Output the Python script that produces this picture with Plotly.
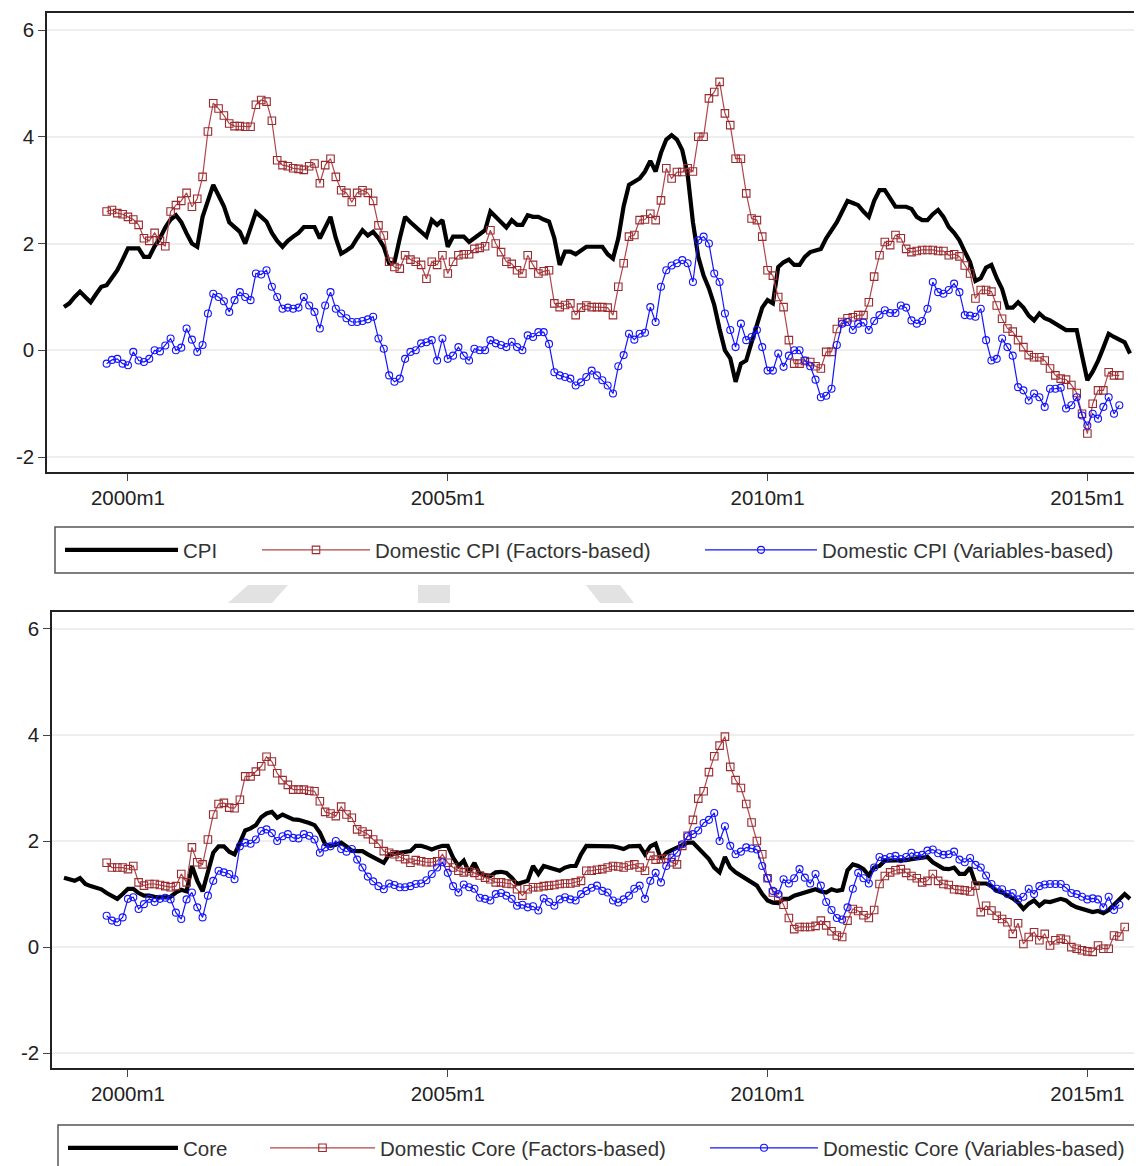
import plotly.graph_objects as go

# ---------------- data (monthly, % ) ----------------
tick_labels = ["2000m1", "2005m1", "2010m1", "2015m1"]
y_ticks = [-2, 0, 2, 4, 6]

cpi_start = "1999m1"
cpi = [
    0.81, 0.88, 1.0, 1.1, 1.0, 0.9, 1.05, 1.19, 1.22, 1.35, 1.5, 1.7,
    1.91, 1.91, 1.91, 1.75, 1.75, 1.95, 2.1, 2.3, 2.45, 2.53, 2.4, 2.19,
    2.0, 1.94, 2.5, 2.8, 3.1, 2.9, 2.7, 2.4, 2.3, 2.22, 2.0, 2.3,
    2.59, 2.5, 2.41, 2.2, 2.05, 1.94, 2.05, 2.13, 2.2, 2.31, 2.31, 2.31,
    2.1, 2.3, 2.5, 2.1, 1.81, 1.87, 1.94, 2.1, 2.25, 2.15, 2.22, 2.1,
    1.94, 1.63, 1.65, 2.1, 2.5, 2.4, 2.31, 2.2, 2.13, 2.44, 2.35, 2.44,
    1.94, 2.13, 2.13, 2.13, 2.03, 2.1, 2.19, 2.25, 2.6, 2.5, 2.38, 2.3,
    2.44, 2.35, 2.35, 2.53, 2.5, 2.5, 2.45, 2.41, 2.1, 1.6, 1.85, 1.85,
    1.8, 1.87, 1.94, 1.94, 1.94, 1.94, 1.8, 1.72, 2.1, 2.7, 3.1, 3.15,
    3.22, 3.35, 3.55, 3.35, 3.7, 3.95, 4.03, 3.95, 3.75, 3.3, 2.4, 1.75,
    1.4, 1.16, 0.85, 0.4, 0.0, -0.15, -0.59, -0.25, -0.19, 0.15, 0.5, 0.8,
    0.94, 0.88, 1.56, 1.65, 1.7, 1.6, 1.6, 1.75, 1.84, 1.86, 1.9, 2.1,
    2.25, 2.4, 2.6, 2.8, 2.76, 2.72, 2.6, 2.5, 2.8, 3.0, 3.0, 2.85,
    2.69, 2.69, 2.69, 2.65, 2.5, 2.44, 2.44, 2.55, 2.63, 2.5, 2.31, 2.2,
    2.06, 1.85, 1.65, 1.3, 1.35, 1.55, 1.6, 1.35, 1.15, 0.8, 0.8, 0.9,
    0.8, 0.65, 0.56, 0.69, 0.6, 0.56, 0.5, 0.45, 0.38, 0.38, 0.38, -0.1,
    -0.56, -0.4, -0.2, 0.05, 0.31, 0.25, 0.2, 0.15, -0.06,
]

cpi_factors_start = "1999m9"
cpi_factors = [
    2.6, 2.63, 2.57, 2.55,
    2.5, 2.45, 2.35, 2.1, 2.05, 2.2, 2.05, 1.95, 2.6, 2.72, 2.8, 2.95,
    2.69, 2.84, 3.25, 4.1, 4.63, 4.53, 4.4, 4.25, 4.2, 4.2, 4.19, 4.19,
    4.6, 4.69, 4.66, 4.3, 3.56, 3.47, 3.45, 3.41, 3.4, 3.38, 3.45, 3.5,
    3.13, 3.47, 3.59, 3.25, 3.0, 2.95, 2.78, 2.95, 3.0, 2.95, 2.8, 2.34,
    2.15, 1.66, 1.56, 1.53, 1.78, 1.7, 1.66, 1.6, 1.34, 1.66, 1.6, 1.78,
    1.44, 1.66, 1.78, 1.8, 1.8, 1.9, 1.92, 1.95, 2.25, 2.0, 1.84, 1.66,
    1.62, 1.5, 1.44, 1.78, 1.6, 1.44, 1.48, 1.5, 0.88, 0.81, 0.85, 0.88,
    0.66, 0.8, 0.84, 0.81, 0.81, 0.81, 0.8, 0.66, 1.19, 1.63, 2.13, 2.16,
    2.44, 2.45, 2.56, 2.44, 2.81, 3.41, 3.22, 3.34, 3.34, 3.41, 3.35, 4.0,
    4.0, 4.72, 4.84, 5.03, 4.44, 4.22, 3.59, 3.59, 2.94, 2.47, 2.44, 2.13,
    1.5, 1.4, 1.0, 0.81, 0.19, -0.25, -0.25, -0.2, -0.22, -0.3, -0.34, -0.03,
    -0.03, 0.4, 0.53, 0.6, 0.62, 0.66, 0.66, 0.9, 1.38, 1.78, 2.03, 1.97,
    2.16, 2.1, 1.9, 1.84, 1.86, 1.88, 1.88, 1.88, 1.86, 1.86, 1.78, 1.8,
    1.76, 1.59, 1.44, 0.97, 1.13, 1.13, 1.1, 0.84, 0.59, 0.41, 0.35, 0.19,
    0.06, -0.09, -0.13, -0.13, -0.19, -0.34, -0.47, -0.53, -0.55, -0.65, -0.8, -1.19,
    -1.56, -1.0, -0.75, -0.75, -0.41, -0.47, -0.47,
]

cpi_variables_start = "1999m9"
cpi_variables = [
    -0.25, -0.18, -0.16, -0.25,
    -0.28, -0.03, -0.19, -0.22, -0.16, 0.0, -0.02, 0.09, 0.22, 0.0, 0.05, 0.41,
    0.2, -0.03, 0.1, 0.69, 1.06, 1.0, 0.92, 0.72, 0.94, 1.09, 1.0, 0.94,
    1.44, 1.42, 1.5, 1.19, 1.0, 0.78, 0.8, 0.78, 0.8, 1.0, 0.84, 0.72,
    0.41, 0.84, 1.09, 0.78, 0.69, 0.6, 0.53, 0.53, 0.55, 0.58, 0.63, 0.22,
    0.03, -0.47, -0.59, -0.53, -0.16, -0.03, 0.0, 0.13, 0.15, 0.19, -0.19, 0.22,
    -0.16, -0.1, 0.06, -0.1, -0.19, 0.03, 0.0, 0.0, 0.19, 0.13, 0.1, 0.06,
    0.16, 0.06, 0.0, 0.28, 0.25, 0.34, 0.34, 0.12, -0.41, -0.47, -0.5, -0.53,
    -0.66, -0.6, -0.5, -0.38, -0.47, -0.56, -0.66, -0.81, -0.3, -0.09, 0.31, 0.2,
    0.31, 0.33, 0.81, 0.53, 1.19, 1.5, 1.59, 1.63, 1.69, 1.63, 1.28, 2.06,
    2.13, 2.0, 1.44, 1.28, 0.69, 0.38, 0.06, 0.5, 0.19, 0.25, 0.38, 0.06,
    -0.38, -0.38, -0.06, -0.31, -0.1, 0.0, 0.0, -0.19, -0.3, -0.55, -0.88, -0.85,
    -0.72, 0.1, 0.5, 0.53, 0.38, 0.5, 0.52, 0.38, 0.55, 0.66, 0.75, 0.7,
    0.7, 0.84, 0.8, 0.56, 0.5, 0.55, 0.78, 1.28, 1.09, 1.06, 1.13, 1.25,
    1.09, 0.66, 0.65, 0.63, 0.78, 0.19, -0.19, -0.16, 0.22, 0.06, -0.1, -0.69,
    -0.75, -0.94, -0.81, -0.88, -1.06, -0.72, -0.72, -0.7, -1.09, -1.03, -0.88, -1.22,
    -1.41, -1.19, -1.28, -1.06, -0.88, -1.19, -1.03,
]

core_start = "1999m1"
core = [
    1.31, 1.28, 1.25, 1.3, 1.19, 1.15, 1.12, 1.09, 1.02, 0.97, 0.91, 1.0,
    1.1, 1.1, 1.02, 0.97, 0.97, 0.95, 0.94, 0.94, 0.95, 1.03, 1.08, 1.05,
    1.53, 1.25, 1.05, 1.45, 1.78, 1.9, 1.9, 1.8, 1.75, 1.97, 2.2, 2.24,
    2.3, 2.45, 2.52, 2.55, 2.44, 2.5, 2.46, 2.41, 2.4, 2.38, 2.34, 2.3,
    2.16, 1.94, 1.91, 1.93, 1.97, 1.9, 1.82, 1.81, 1.81, 1.75, 1.7, 1.65,
    1.59, 1.75, 1.77, 1.78, 1.8, 1.81, 1.91, 1.91, 1.88, 1.84, 1.88, 1.91,
    1.91, 1.69, 1.53, 1.63, 1.41, 1.59, 1.38, 1.35, 1.34, 1.41, 1.42, 1.4,
    1.31, 1.19, 1.22, 1.25, 1.53, 1.38, 1.53, 1.5, 1.47, 1.44, 1.5, 1.53,
    1.53, 1.75, 1.91, 1.91, 1.91, 1.91, 1.91, 1.9, 1.88, 1.85, 1.9, 1.9,
    1.91, 1.75, 1.9, 1.95, 1.66, 1.78, 1.83, 1.88, 1.93, 1.97, 1.97, 1.86,
    1.75, 1.66, 1.5, 1.41, 1.7, 1.5, 1.41, 1.35, 1.28, 1.22, 1.16, 1.0,
    0.88, 0.84, 0.83, 0.91, 0.91, 0.97, 1.0, 1.03, 1.05, 1.09, 1.05, 1.03,
    1.09, 1.06, 1.08, 1.45, 1.56, 1.53, 1.47, 1.35, 1.5, 1.53, 1.63, 1.63,
    1.63, 1.63, 1.64, 1.66, 1.67, 1.68, 1.7, 1.6, 1.53, 1.48, 1.47, 1.5,
    1.38, 1.38, 1.5, 1.2, 1.2, 1.2, 1.15, 1.06, 1.03, 0.98, 0.92, 0.84,
    0.72, 0.82, 0.88, 0.78, 0.86, 0.85, 0.88, 0.91, 0.88, 0.8, 0.75, 0.72,
    0.7, 0.66, 0.68, 0.64, 0.7, 0.8, 0.88, 1.0, 0.91,
]

core_factors_start = "1999m9"
core_factors = [
    1.59, 1.5, 1.5, 1.5,
    1.47, 1.53, 1.22, 1.16, 1.19, 1.19, 1.17, 1.15, 1.13, 1.15, 1.38, 1.22,
    1.88, 1.6, 1.56, 2.03, 2.5, 2.7, 2.72, 2.63, 2.62, 2.78, 3.22, 3.22,
    3.31, 3.41, 3.59, 3.5, 3.28, 3.15, 3.06, 2.97, 2.97, 2.97, 2.95, 2.94,
    2.75, 2.55, 2.52, 2.47, 2.65, 2.5, 2.44, 2.22, 2.18, 2.13, 2.03, 1.95,
    1.81, 1.78, 1.75, 1.7, 1.66, 1.59, 1.64, 1.62, 1.6, 1.6, 1.62, 1.75,
    1.59, 1.5, 1.44, 1.41, 1.43, 1.4, 1.35, 1.31, 1.28, 1.22, 1.22, 1.2,
    1.19, 1.09, 0.97, 1.09, 1.13, 1.13, 1.15, 1.16, 1.17, 1.19, 1.2, 1.2,
    1.22, 1.25, 1.44, 1.44, 1.46, 1.47, 1.5, 1.53, 1.52, 1.5, 1.54, 1.56,
    1.5, 1.44, 1.72, 1.65, 1.66, 1.67, 1.6, 1.56, 1.91, 2.1, 2.4, 2.8,
    2.94, 3.3, 3.6, 3.8, 3.97, 3.4, 3.15, 3.0, 2.7, 2.35, 2.0, 1.75,
    1.3, 1.03, 0.95, 0.8, 0.55, 0.34, 0.38, 0.38, 0.38, 0.4, 0.5, 0.41,
    0.3, 0.22, 0.19, 0.5, 0.72, 0.68, 0.6, 0.55, 0.7, 1.19, 1.34, 1.41,
    1.45, 1.47, 1.4, 1.34, 1.3, 1.22, 1.25, 1.38, 1.25, 1.19, 1.17, 1.09,
    1.08, 1.07, 1.05, 1.16, 0.66, 0.78, 0.69, 0.59, 0.53, 0.47, 0.25, 0.45,
    0.06, 0.19, 0.28, 0.13, 0.25, 0.03, 0.13, 0.16, 0.14, 0.0, -0.03, -0.06,
    -0.08, -0.09, 0.03, -0.03, -0.03, 0.22, 0.2, 0.38,
]

core_variables_start = "1999m9"
core_variables = [
    0.59, 0.5, 0.47, 0.56,
    0.91, 0.94, 0.72, 0.81, 0.91, 0.85, 0.91, 0.93, 0.9, 0.65, 0.53, 0.9,
    1.03, 0.75, 0.56, 0.97, 1.25, 1.44, 1.41, 1.38, 1.28, 1.9, 1.97, 1.95,
    2.03, 2.19, 2.22, 2.15, 2.0, 2.09, 2.13, 2.06, 2.05, 2.13, 2.1, 2.03,
    1.78, 1.88, 1.9, 2.0, 1.85, 1.8, 1.85, 1.65, 1.5, 1.33, 1.24, 1.15,
    1.09, 1.2, 1.17, 1.13, 1.13, 1.15, 1.19, 1.2, 1.26, 1.38, 1.5, 1.6,
    1.4, 1.15, 1.03, 1.18, 1.13, 1.1, 0.93, 0.91, 0.88, 1.0, 1.02, 0.97,
    0.91, 0.78, 0.8, 0.75, 0.77, 0.69, 0.92, 0.85, 0.78, 0.9, 0.94, 0.9,
    0.88, 1.0, 1.06, 1.12, 1.16, 1.06, 1.03, 0.88, 0.84, 0.9, 0.97, 1.1,
    1.16, 0.91, 1.25, 1.4, 1.22, 1.53, 1.69, 1.78, 1.94, 2.09, 2.13, 2.2,
    2.34, 2.4, 2.53, 2.0, 2.28, 1.91, 1.75, 1.8, 1.88, 1.86, 1.84, 1.53,
    1.3, 1.06, 1.0, 1.28, 1.2, 1.3, 1.47, 1.31, 1.2, 1.38, 1.16, 0.85,
    0.7, 0.55, 0.52, 0.75, 1.1, 1.4, 1.3, 1.2, 1.5, 1.7, 1.66, 1.7,
    1.72, 1.66, 1.7, 1.78, 1.72, 1.74, 1.82, 1.84, 1.77, 1.74, 1.75, 1.8,
    1.65, 1.6, 1.68, 1.55, 1.5, 1.35, 1.19, 1.1, 1.09, 1.0, 1.02, 0.9,
    0.95, 1.1, 1.0, 1.15, 1.18, 1.19, 1.19, 1.19, 1.12, 1.02, 1.0, 0.95,
    0.9, 0.92, 0.9, 0.75, 0.95, 0.7, 0.8,
]

# ---------------- helpers ----------------
def month_index(label):
    yr, mo = label.split("m")
    return (int(yr) - 1999) * 12 + int(mo) - 1


def xs(start, values):
    s = month_index(start)
    return list(range(s, s + len(values)))


W, H = 1142, 1166
OFF = 8             # page margin offset of the figure inside the window
PXM = 5.33          # pixels per month
X0PX = 64           # window pixel of 1999m1


def fx(p):
    return (p - OFF) / W


def fy(p):
    return 1 - (p - OFF) / H


FONT = "Liberation Sans, Arial, Helvetica, sans-serif"
FS = 20.5
BLACK = "#000000"
RED_LINE = "#b0454a"
RED_MK = "#9a2a2e"
BLUE = "#1414ff"

fig = go.Figure()

series = [
    ("x", "y", "legend", "CPI", cpi_start, cpi, "k"),
    ("x", "y", "legend2", "Domestic CPI (Factors-based)", cpi_factors_start, cpi_factors, "r"),
    ("x", "y", "legend3", "Domestic CPI (Variables-based)", cpi_variables_start, cpi_variables, "b"),
    ("x2", "y2", "legend4", "Core", core_start, core, "k"),
    ("x2", "y2", "legend5", "Domestic Core (Factors-based)", core_factors_start, core_factors, "r"),
    ("x2", "y2", "legend6", "Domestic Core (Variables-based)", core_variables_start, core_variables, "b"),
]

for xa, ya, lg, name, start, vals, kind in series:
    if kind == "k":
        style = dict(mode="lines", line=dict(color=BLACK, width=4.2))
    elif kind == "r":
        style = dict(mode="lines+markers", line=dict(color=RED_LINE, width=1.2),
                     marker=dict(symbol="square-open", size=7.5, color=RED_MK,
                                 line=dict(width=1.1, color=RED_MK)))
    else:
        style = dict(mode="lines+markers", line=dict(color=BLUE, width=1.2),
                     marker=dict(symbol="circle-open", size=7, color=BLUE,
                                 line=dict(width=1.1, color=BLUE)))
    fig.add_trace(go.Scatter(x=xs(start, vals), y=vals, name=name, xaxis=xa, yaxis=ya,
                             legend=lg, showlegend=True, **style))

tickvals = [month_index(t) for t in tick_labels]

xcommon = dict(tickmode="array", tickvals=tickvals, ticktext=tick_labels,
               showline=True, linecolor="#222", linewidth=1.5, mirror=True,
               ticks="outside", ticklen=7, tickwidth=1.2, tickcolor="#444",
               showgrid=False, zeroline=False,
               tickfont=dict(family=FONT, size=FS, color="#222"))
ycommon = dict(tickmode="array", tickvals=y_ticks, ticktext=[str(v) for v in y_ticks],
               range=[-2.28, 6.32], showline=True, linecolor="#222", linewidth=1.5,
               ticks="outside", ticklen=7, tickwidth=1.2, tickcolor="#444",
               showgrid=True, gridcolor="#eeeeee", gridwidth=2, zeroline=False,
               tickfont=dict(family=FONT, size=FS, color="#222"))

right_edge = (W + OFF - X0PX) / PXM


def legend_at(line_start_px, text_start_px, y_px):
    # place legend so its symbol line starts / its text starts at the given window pixels
    return dict(orientation="h", yanchor="middle", xanchor="left",
                x=fx(line_start_px - 5), y=fy(y_px),
                itemwidth=text_start_px - line_start_px - 5,
                bgcolor="rgba(0,0,0,0)", borderwidth=0,
                font=dict(family=FONT, size=FS, color="#333"))


fig.update_layout(
    width=W, height=H,
    margin=dict(l=0, r=0, t=0, b=0),
    paper_bgcolor="white", plot_bgcolor="white",
    xaxis=dict(domain=[fx(47), 1], range=[(47 - X0PX) / PXM, right_edge], anchor="y", **xcommon),
    yaxis=dict(domain=[fy(472), fy(13)], anchor="x", **ycommon),
    xaxis2=dict(domain=[fx(52), 1], range=[(52 - X0PX) / PXM, right_edge], anchor="y2", **xcommon),
    yaxis2=dict(domain=[fy(1068), fy(612)], anchor="x2", **ycommon),
    legend=legend_at(65, 183, 550),
    legend2=legend_at(262, 375, 550),
    legend3=legend_at(705, 822, 550),
    legend4=legend_at(68, 183, 1148),
    legend5=legend_at(270, 380, 1148),
    legend6=legend_at(710, 823, 1148),
    shapes=[
        dict(type="rect", xref="paper", yref="paper", x0=fx(55), x1=fx(1139),
             y0=fy(573), y1=fy(527), line=dict(color="#555", width=1.5), layer="below"),
        dict(type="rect", xref="paper", yref="paper", x0=fx(58), x1=fx(1139),
             y0=fy(1190), y1=fy(1125), line=dict(color="#555", width=1.5), layer="below"),
        # faint watermark fragments
        dict(type="path", xref="paper", yref="paper",
             path=f"M {fx(248)},{fy(585)} L {fx(288)},{fy(585)} L {fx(272)},{fy(603)} L {fx(228)},{fy(603)} Z",
             fillcolor="#e2e2e2", line=dict(width=0), layer="below"),
        dict(type="rect", xref="paper", yref="paper", x0=fx(418), x1=fx(450),
             y0=fy(603), y1=fy(585), fillcolor="#e2e2e2", line=dict(width=0), layer="below"),
        dict(type="path", xref="paper", yref="paper",
             path=f"M {fx(586)},{fy(585)} L {fx(620)},{fy(585)} L {fx(634)},{fy(603)} L {fx(600)},{fy(603)} Z",
             fillcolor="#e2e2e2", line=dict(width=0), layer="below"),
    ],
)

fig.write_html("out.html")
